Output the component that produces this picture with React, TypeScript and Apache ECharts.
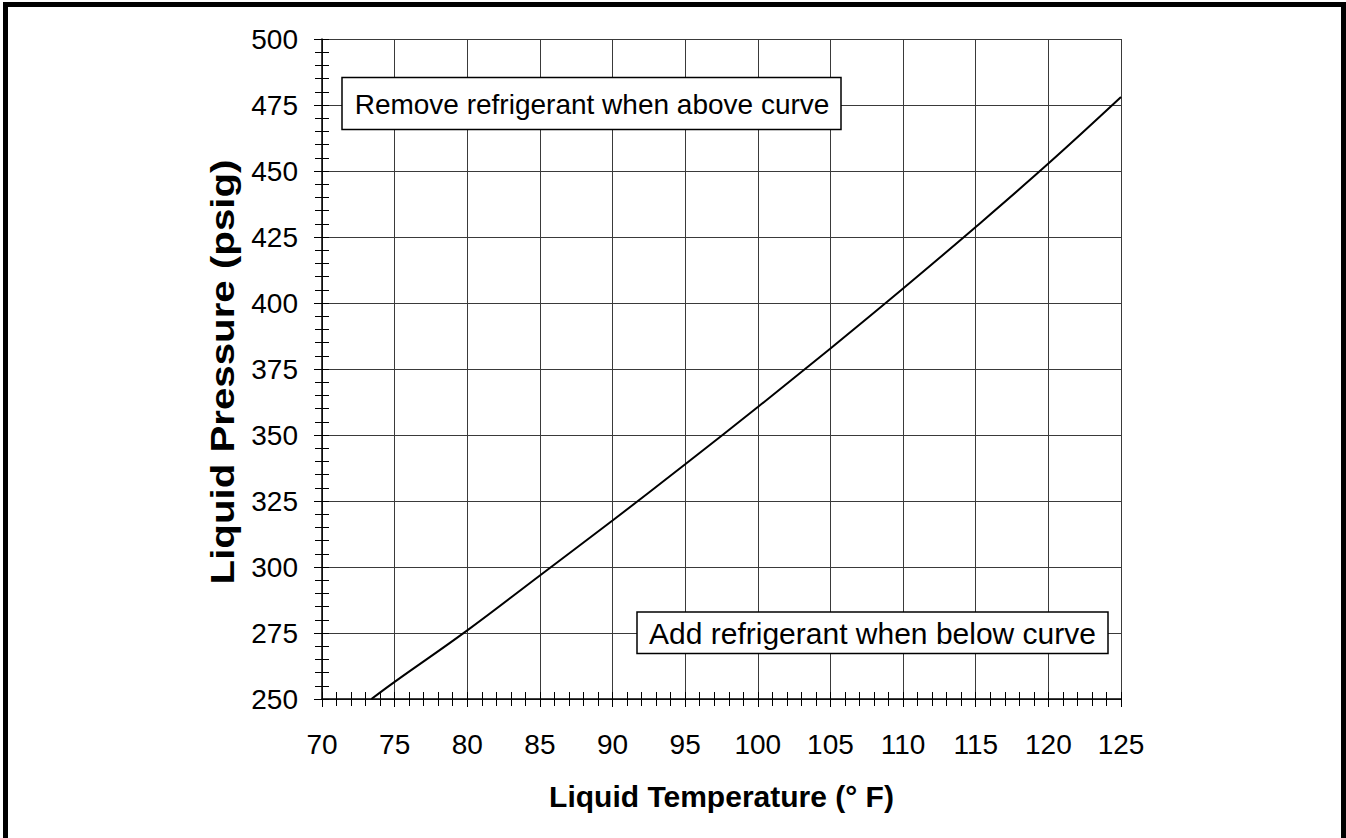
import React, { useEffect, useRef } from "react";
import * as echarts from "echarts";

// Data
const temperatures = [73.4, 75, 80, 85, 90, 95, 100, 105, 110, 115, 120, 125];
const pressures = [250, 256.5, 276, 296.8, 317.6, 338.9, 360.6, 382.8, 405.5, 428.8, 452.8, 478];

const xMin = 70;
const xMax = 125;
const xInterval = 5;
const yMin = 250;
const yMax = 500;
const yInterval = 25;

const xTitle = "Liquid Temperature (° F)";
const yTitle = "Liquid Pressure (psig)";
const noteAbove = "Remove refrigerant when above curve";
const noteBelow = "Add refrigerant when below curve";

const FONT = "'Liberation Sans', Arial, Helvetica, sans-serif";

export default function App() {
  const ref = useRef<HTMLDivElement>(null);

  useEffect(() => {
    document.body.style.margin = "0";
    const chart = echarts.init(ref.current!, null, { renderer: "svg" });
    const points = temperatures.map((t, i) => [t, pressures[i]]);

    const axisCommonX = {
      type: "value",
      min: xMin,
      max: xMax,
      interval: xInterval,
      position: "bottom",
    };
    const axisCommonY = {
      type: "value",
      min: yMin,
      max: yMax,
      interval: yInterval,
      position: "left",
    };

    chart.setOption({
      animation: false,
      backgroundColor: "#ffffff",
      grid: { left: 322, top: 39, width: 799, height: 660, containLabel: false },
      xAxis: [
        {
          ...axisCommonX,
          name: xTitle,
          nameLocation: "middle",
          nameGap: 82,
          nameTextStyle: { fontFamily: FONT, fontSize: 30, fontWeight: "bold", color: "#000" },
          axisLine: { show: true, lineStyle: { color: "#000", width: 1.5 } },
          axisTick: { show: true, inside: false, length: 8, lineStyle: { color: "#000", width: 1 } },
          minorTick: { show: true, splitNumber: 5, length: 7, lineStyle: { color: "#000", width: 1 } },
          splitLine: { show: true, lineStyle: { color: "#3a3a3a", width: 1 } },
          axisLabel: { fontFamily: FONT, fontSize: 28, color: "#000", margin: 31 },
        },
        {
          ...axisCommonX,
          axisLine: { show: false },
          axisTick: { show: true, inside: true, length: 7, lineStyle: { color: "#000", width: 1 } },
          minorTick: { show: true, splitNumber: 5, length: 7, lineStyle: { color: "#000", width: 1 } },
          splitLine: { show: false },
          axisLabel: { show: false },
        },
      ],
      yAxis: [
        {
          ...axisCommonY,
          axisLine: { show: true, lineStyle: { color: "#000", width: 1.5 } },
          axisTick: { show: true, inside: false, length: 8, lineStyle: { color: "#000", width: 1 } },
          minorTick: { show: true, splitNumber: 5, length: 7, lineStyle: { color: "#000", width: 1 } },
          splitLine: { show: true, lineStyle: { color: "#3a3a3a", width: 1 } },
          axisLabel: { fontFamily: FONT, fontSize: 28, color: "#000", margin: 24 },
        },
        {
          ...axisCommonY,
          axisLine: { show: false },
          axisTick: { show: true, inside: true, length: 7, lineStyle: { color: "#000", width: 1 } },
          minorTick: { show: true, splitNumber: 5, length: 7, lineStyle: { color: "#000", width: 1 } },
          splitLine: { show: false },
          axisLabel: { show: false },
        },
      ],
      series: [
        {
          type: "line",
          xAxisIndex: 0,
          yAxisIndex: 0,
          data: points,
          smooth: 0.4,
          showSymbol: false,
          symbol: "none",
          lineStyle: { color: "#000", width: 2 },
          z: 5,
        },
      ],
      graphic: [
        {
          type: "polyline",
          shape: { points: [[5.5, 840], [5.5, 4.5], [1343.5, 4.5], [1343.5, 840]] },
          style: { stroke: "#000", lineWidth: 5, fill: "none" },
          z: 100,
        },
        {
          type: "text",
          x: 223,
          y: 372,
          rotation: Math.PI / 2,
          scaleX: 1.22,
          scaleY: 1,
          style: {
            text: yTitle,
            fontFamily: FONT,
            fontSize: 33,
            fontWeight: "bold",
            fill: "#000",
            align: "center",
            verticalAlign: "middle",
          },
          z: 51,
        },
        {
          type: "rect",
          shape: { x: 342, y: 77.5, width: 499, height: 52 },
          style: { fill: "#fff", stroke: "#000", lineWidth: 1.5 },
          z: 50,
        },
        {
          type: "text",
          x: 592,
          y: 104,
          style: {
            text: noteAbove,
            fontFamily: FONT,
            fontSize: 28,
            fill: "#000",
            align: "center",
            verticalAlign: "middle",
          },
          z: 51,
        },
        {
          type: "rect",
          shape: { x: 637, y: 612, width: 471, height: 41.5 },
          style: { fill: "#fff", stroke: "#000", lineWidth: 1.5 },
          z: 50,
        },
        {
          type: "text",
          x: 872.5,
          y: 633,
          style: {
            text: noteBelow,
            fontFamily: FONT,
            fontSize: 30,
            fill: "#000",
            align: "center",
            verticalAlign: "middle",
          },
          z: 51,
        },
      ],
    });

    return () => chart.dispose();
  }, []);

  return (
    <div
      ref={ref}
      style={{ position: "absolute", left: 0, top: 0, width: 1346, height: 838, background: "#fff" }}
    />
  );
}
